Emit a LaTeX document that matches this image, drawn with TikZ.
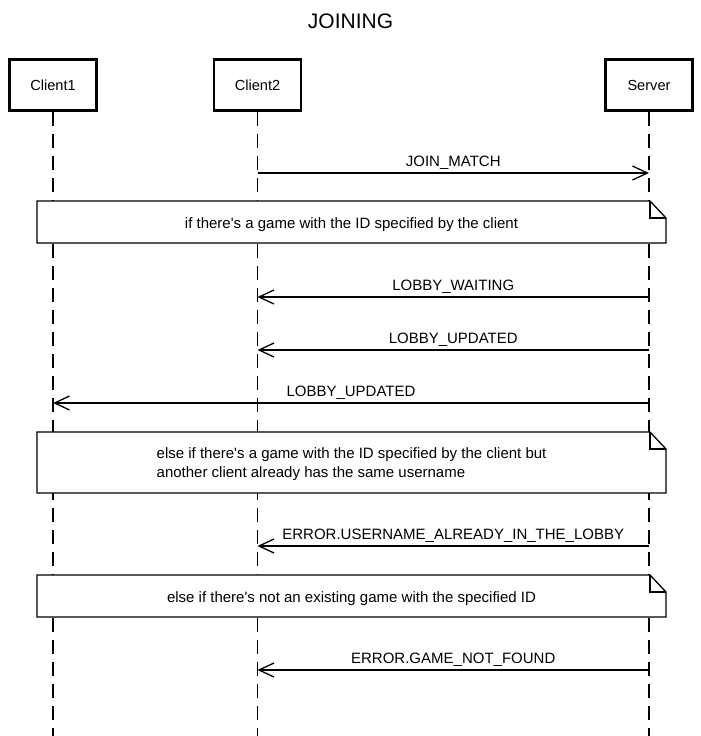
\documentclass[tikz,border=0pt]{standalone}
\usepackage{fontspec}
\setmainfont{Liberation Sans}[Ligatures=TeXOff]
\usetikzlibrary{arrows.meta}
\begin{document}
\begin{tikzpicture}[x=1pt,y=-1pt,
  actor/.style={draw,line width=2.8pt,minimum width=87pt,minimum height=51pt,inner sep=0pt,font=\fontsize{14.6}{17}\selectfont},
  life/.style={line width=1.3pt,dash pattern=on 14pt off 8pt},
  msg/.style={line width=1.3pt,-{Straight Barb[length=15pt,width=14pt,line width=1.3pt]}},
  lbl/.style={anchor=base,font=\fontsize{15}{18}\selectfont,inner sep=0pt},
  notebox/.style={line width=1.3pt,fill=white},
  fold/.style={line width=1.3pt},
  ttl/.style={anchor=base,font=\fontsize{21}{25}\selectfont,inner sep=0pt}
]
\useasboundingbox (0,0) rectangle (701,736);

\node[ttl] (title) at (350.5,28.3) {JOINING};

% actors
\node[actor] (c1) at (53,85) {Client1};
\node[actor] (c2) at (257.5,85) {Client2};
\node[actor] (sv) at (649,85) {Server};

% lifeline ends
\coordinate (c1e) at (53,736);
\coordinate (c2e) at (257.5,736);
\coordinate (sve) at (649,736);
\draw[life] (c1.south) -- (c1e);
\draw[life] (c2.south) -- (c2e);
\draw[life] (sv.south) -- (sve);

% message anchor points
\foreach \n/\y in {1/173,2/297,3/350,4/403,5/546,6/670}{
  \coordinate (a\n) at (53,\y);
  \coordinate (b\n) at (257.5,\y);
  \coordinate (s\n) at (649,\y);
}

% note 1
\coordinate (n1a) at (37,201);
\coordinate (n1b) at (650,201);
\coordinate (n1c) at (666,218);
\coordinate (n1d) at (666,243);
\coordinate (n1e) at (37,243);
\coordinate (n1f) at (650,218);
\filldraw[notebox] (n1a) -- (n1b) -- (n1c) -- (n1d) -- (n1e) -- cycle;
\draw[fold] (n1b) -- (n1f) -- (n1c);
\node[lbl] (t1) at (351.5,228) {if there's a game with the ID specified by the client};

% note 2
\coordinate (n2a) at (37,432);
\coordinate (n2b) at (650,432);
\coordinate (n2c) at (666,449);
\coordinate (n2d) at (666,493);
\coordinate (n2e) at (37,493);
\coordinate (n2f) at (650,449);
\filldraw[notebox] (n2a) -- (n2b) -- (n2c) -- (n2d) -- (n2e) -- cycle;
\draw[fold] (n2b) -- (n2f) -- (n2c);
\node[lbl,anchor=base west] (t2a) at (156.5,458.5) {else if there's a game with the ID specified by the client but};
\node[lbl,anchor=base west] (t2b) at (156.5,477) {another client already has the same username};

% note 3
\coordinate (n3a) at (37,575);
\coordinate (n3b) at (650,575);
\coordinate (n3c) at (666,592);
\coordinate (n3d) at (666,617);
\coordinate (n3e) at (37,617);
\coordinate (n3f) at (650,592);
\filldraw[notebox] (n3a) -- (n3b) -- (n3c) -- (n3d) -- (n3e) -- cycle;
\draw[fold] (n3b) -- (n3f) -- (n3c);
\node[lbl] (t3) at (351.5,602) {else if there's not an existing game with the specified ID};

% messages
\draw[msg] (b1) -- (s1) node[lbl,midway,above=6.5pt,anchor=base] (m1) {JOIN\_MATCH};
\draw[msg] (s2) -- (b2) node[lbl,midway,above=6.5pt,anchor=base] (m2) {LOBBY\_WAITING};
\draw[msg] (s3) -- (b3) node[lbl,midway,above=6.5pt,anchor=base] (m3) {LOBBY\_UPDATED};
\draw[msg] (s4) -- (a4) node[lbl,midway,above=6.5pt,anchor=base] (m4) {LOBBY\_UPDATED};
\draw[msg] (s5) -- (b5) node[lbl,midway,above=6.5pt,anchor=base] (m5) {ERROR.USERNAME\_ALREADY\_IN\_THE\_LOBBY};
\draw[msg] (s6) -- (b6) node[lbl,midway,above=6.5pt,anchor=base] (m6) {ERROR.GAME\_NOT\_FOUND};
\end{tikzpicture}
\end{document}
